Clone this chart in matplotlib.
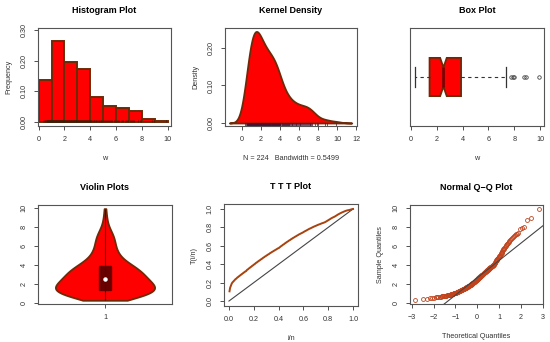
import numpy as np
import matplotlib
matplotlib.use('Agg')
import matplotlib.pyplot as plt
from statistics import NormalDist

plt.rcParams['font.family'] = ['Liberation Sans', 'DejaVu Sans']

w_bin1 = [0.31, 0.42, 0.47, 0.52, 0.56, 0.59, 0.61, 0.63, 0.65, 0.67, 0.69, 0.71, 0.72, 0.74, 0.76,
          0.77, 0.79, 0.80, 0.82, 0.83, 0.85, 0.86, 0.88, 0.89, 0.91, 0.92, 0.94, 0.95, 0.97, 0.98, 0.99]
w_bin2 = [1.02, 1.04, 1.05, 1.07, 1.09, 1.10, 1.12, 1.14, 1.15, 1.17, 1.19, 1.20, 1.22, 1.24, 1.25,
          1.27, 1.29, 1.31, 1.32, 1.34, 1.36, 1.37, 1.39, 1.41, 1.42, 1.44, 1.46, 1.47, 1.49, 1.51,
          1.53, 1.54, 1.56, 1.58, 1.59, 1.61, 1.63, 1.64, 1.66, 1.68, 1.69, 1.71, 1.73, 1.75, 1.76,
          1.78, 1.80, 1.81, 1.83, 1.85, 1.86, 1.88, 1.90, 1.91, 1.93, 1.95, 1.97, 1.98, 1.99]
w_bin3 = [2.02, 2.04, 2.07, 2.09, 2.11, 2.13, 2.16, 2.18, 2.20, 2.22, 2.25, 2.27, 2.29, 2.32, 2.34,
          2.36, 2.38, 2.41, 2.43, 2.45, 2.47, 2.50, 2.52, 2.54, 2.57, 2.59, 2.61, 2.63, 2.66, 2.68,
          2.70, 2.72, 2.75, 2.77, 2.79, 2.82, 2.84, 2.86, 2.88, 2.91, 2.93, 2.95, 2.97, 2.99]
w_bin4 = [3.02, 3.05, 3.07, 3.10, 3.12, 3.15, 3.17, 3.20, 3.23, 3.25, 3.28, 3.30, 3.33, 3.35, 3.38,
          3.41, 3.43, 3.46, 3.48, 3.51, 3.53, 3.56, 3.58, 3.61, 3.64, 3.66, 3.69, 3.71, 3.74, 3.76,
          3.79, 3.82, 3.84, 3.87, 3.89, 3.92, 3.94, 3.97, 3.99]
w_bin5 = [4.04, 4.09, 4.15, 4.20, 4.26, 4.31, 4.37, 4.42, 4.48, 4.53, 4.59, 4.64, 4.70, 4.75, 4.81,
          4.86, 4.92, 4.97]
w_bin6 = [5.05, 5.13, 5.21, 5.30, 5.38, 5.46, 5.55, 5.63, 5.71, 5.80, 5.88, 5.96]
w_bin7 = [6.06, 6.15, 6.25, 6.35, 6.45, 6.55, 6.65, 6.75, 6.85, 6.95]
w_tail = [7.05, 7.12, 7.20, 7.28, 7.36, 7.72, 7.88, 7.96, 8.75, 8.90, 9.90]

w = np.array(w_bin1 + w_bin2 + w_bin3 + w_bin4 + w_bin5 + w_bin6 + w_bin7 + w_tail)
n = len(w)
bandwidth = 0.5499
hist_breaks = list(range(0, 11))

RED = '#ff0000'
BROWN = '#6e2a08'
TXT = '#333333'
FS_T = 6.5
FS = 5.2

fig = plt.figure(figsize=(5.5, 3.42), dpi=100)


def make_ax(l, r, t, b):
    ax = fig.add_axes([l / 550, 1 - b / 342, (r - l) / 550, (b - t) / 342])
    for s in ax.spines.values():
        s.set_color('#555555')
        s.set_linewidth(0.8)
    ax.tick_params(labelsize=FS, colors=TXT, length=3, width=0.6, pad=4.5)
    ax.tick_params(axis='y', labelrotation=90)
    return ax


def finish_y(ax):
    for lab in ax.get_yticklabels():
        lab.set_va('center')


def kde(data, grid, h):
    z = (grid[:, None] - data[None, :]) / h
    return np.exp(-0.5 * z ** 2).sum(axis=1) / (len(data) * h * np.sqrt(2 * np.pi))


# Histogram
ax = make_ax(38, 171, 28, 126)
ax.hist(w, bins=hist_breaks, density=True, color=RED, edgecolor=BROWN, linewidth=1.4)
ax.vlines(w, -0.001, 0.006, color='#3a200a', linewidth=0.5)
ax.set_xlim(-0.05, 10.25)
ax.set_ylim(-0.013, 0.307)
ax.set_xticks([0, 2, 4, 6, 8, 10])
ax.set_yticks([0, 0.1, 0.2, 0.3])
ax.set_yticklabels(['0.00', '0.10', '0.20', '0.30'])
finish_y(ax)
ax.set_title('Histogram Plot', fontsize=FS_T, fontweight='bold', pad=11)
ax.set_xlabel('w', fontsize=FS, color=TXT, labelpad=8)
ax.set_ylabel('Frequency', fontsize=FS, color=TXT, labelpad=6)

# Kernel density
ax = make_ax(225, 357, 28, 126)
grid = np.linspace(w.min() - 3 * bandwidth, w.max() + 3 * bandwidth, 512)
dens = kde(w, grid, bandwidth)
ax.fill_between(grid, 0, dens, color=RED, edgecolor=BROWN, linewidth=1.3)
ax.vlines(w, -0.007, 0.001, color='#4a1030', linewidth=0.5)
ax.set_xlim(-1.8, 12.1)
ax.set_ylim(-0.008, 0.253)
ax.set_xticks([0, 2, 4, 6, 8, 10, 12])
ax.set_yticks([0, 0.1, 0.2])
ax.set_yticklabels(['0.00', '0.10', '0.20'])
finish_y(ax)
ax.set_title('Kernel Density', fontsize=FS_T, fontweight='bold', pad=11)
ax.set_xlabel('N = %d   Bandwidth = %.4f' % (n, bandwidth), fontsize=FS, color=TXT, labelpad=8)
ax.set_ylabel('Density', fontsize=FS, color=TXT, labelpad=6)

# Box plot
ax = make_ax(410, 544, 28, 126)
ax.boxplot(w, vert=False, notch=True, widths=0.78, capwidths=0.39, patch_artist=True,
           boxprops=dict(facecolor=RED, edgecolor=BROWN, linewidth=1.3),
           medianprops=dict(color='#7a0000', linewidth=2),
           whiskerprops=dict(color='#333333', linestyle=(0, (3, 3)), linewidth=0.8),
           capprops=dict(color='#333333', linewidth=0.9),
           flierprops=dict(marker='o', markersize=2.5, markerfacecolor='none',
                           markeredgecolor='#444444', markeredgewidth=0.6))
ax.set_xlim(-0.08, 10.3)
ax.set_ylim(0, 2)
ax.set_xticks([0, 2, 4, 6, 8, 10])
ax.set_yticks([])
ax.set_title('Box Plot', fontsize=FS_T, fontweight='bold', pad=11)
ax.set_xlabel('w', fontsize=FS, color=TXT, labelpad=8)

# Violin
ax = make_ax(38, 172, 205, 304)
vgrid = np.linspace(w.min(), w.max(), 400)
vd = kde(w, vgrid, 0.68)
half = 0.37 * vd / vd.max()
ax.fill_betweenx(vgrid, 1 - half, 1 + half, color=RED, edgecolor=BROWN, linewidth=1.3)
ax.vlines(1, w.min(), w.max(), color='#5a0000', linewidth=0.8)
q1, med, q3 = np.percentile(w, [25, 50, 75])
ax.add_patch(plt.Rectangle((1 - 0.045, q1), 0.09, q3 - q1, facecolor='#6a0000', edgecolor='#6a0000'))
ax.plot([1], [med], 'o', color='white', markersize=2.2)
ax.set_xlim(0.5, 1.5)
ax.set_ylim(-0.08, 10.28)
ax.set_xticks([1])
ax.set_yticks([0, 2, 4, 6, 8, 10])
finish_y(ax)
ax.set_title('Violin Plots', fontsize=FS_T, fontweight='bold', pad=11)

# TTT plot
ax = make_ax(224, 358, 204, 306)
ws = np.sort(w)
idx = np.arange(1, n + 1)
ttt = (np.cumsum(ws) + (n - idx) * ws) / ws.sum()
ax.plot([0, 1], [0, 1], color='#444444', linewidth=0.8)
ax.plot(idx / n, ttt, color='#a8420f', linewidth=1.4)
ax.set_xlim(-0.04, 1.04)
ax.set_ylim(-0.054, 1.054)
ax.set_xticks([0, 0.2, 0.4, 0.6, 0.8, 1.0])
ax.set_yticks([0, 0.2, 0.4, 0.6, 0.8, 1.0])
finish_y(ax)
ax.set_title('T T T Plot', fontsize=FS_T, fontweight='bold', pad=11)
ax.set_xlabel('i/n', fontsize=FS, color=TXT, labelpad=8)
ax.set_ylabel('T(i/n)', fontsize=FS, color=TXT, labelpad=6)

# Normal Q-Q
ax = make_ax(410, 543, 205, 304)
nd = NormalDist()
theo = np.array([nd.inv_cdf((i - 0.5) / n) for i in idx])
ax.plot(theo, ws, 'o', markersize=2.8, markerfacecolor='none', markeredgecolor='#c0431c',
        markeredgewidth=0.6)
slope = (q3 - q1) / (nd.inv_cdf(0.75) - nd.inv_cdf(0.25))
inter = q1 - slope * nd.inv_cdf(0.25)
xl = np.array([-3.2, 3.2])
ax.plot(xl, inter + slope * xl, color='#444444', linewidth=0.8)
ax.set_xlim(-3.08, 3.02)
ax.set_ylim(-0.08, 10.28)
ax.set_xticks([-3, -2, -1, 0, 1, 2, 3])
ax.set_yticks([0, 2, 4, 6, 8, 10])
finish_y(ax)
ax.set_title('Normal Q\u2212Q Plot', fontsize=FS_T, fontweight='bold', pad=11)
ax.set_xlabel('Theoretical Quantiles', fontsize=FS, color=TXT, labelpad=8)
ax.set_ylabel('Sample Quantiles', fontsize=FS, color=TXT, labelpad=6)

fig.savefig('out.png', dpi=100)
